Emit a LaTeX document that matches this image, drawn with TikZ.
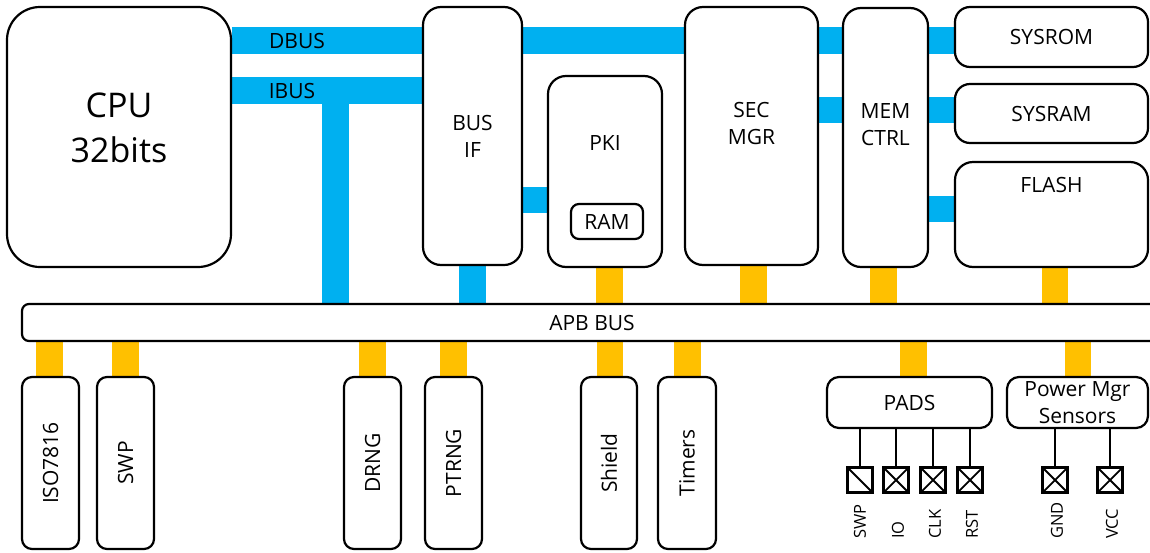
\documentclass[tikz,border=0pt]{standalone}
\usepackage{fontspec}
\setmainfont{Open Sans}
\usetikzlibrary{calc}
\pgfdeclarelayer{background}
\pgfsetlayers{background,main}
\definecolor{busblue}{HTML}{00B0F0}
\definecolor{apbyellow}{HTML}{FFC000}
\tikzset{
  blk/.style={draw, line width=2.2pt, fill=white, rounded corners=#1, inner sep=0pt,
    align=center, font=\fontsize{21}{27}\selectfont},
  blk/.default=18pt,
  bbus/.style={busblue, line width=26.5pt},
  ybus/.style={apbyellow, line width=26.5pt},
  padsq/.style={draw, line width=2.6pt, minimum size=25pt, inner sep=0pt,
    path picture={\draw[line width=1.8pt] (path picture bounding box.north west) -- (path picture bounding box.south east)
      (path picture bounding box.north east) -- (path picture bounding box.south west);}},
  swpsq/.style={draw, line width=2.6pt, minimum size=25pt, inner sep=0pt,
    path picture={\draw[line width=1.8pt] (path picture bounding box.north west) -- (path picture bounding box.south east);}},
  padwire/.style={line width=2.4pt},
  padlab/.style={rotate=90, anchor=west, inner sep=0pt, font=\fontsize{16.5}{16.5}\selectfont}
}
\begin{document}
\begin{tikzpicture}[x=1pt,y=-1pt]
  \useasboundingbox (0,0) rectangle (1150,552);
  % top row
  \node[blk=33pt, minimum width=224pt, minimum height=260pt,
    label={[font=\fontsize{34}{45}\selectfont, align=center, yshift=9.5pt]center:{CPU\\32bits}}] (cpu) at (119,137) {};
  \node[blk, minimum width=99pt, minimum height=258pt] (busif) at (472.5,136) {BUS\\IF};
  \node[blk, minimum width=114pt, minimum height=191pt,
    label={[font=\fontsize{21}{27}\selectfont, yshift=28.5pt]center:PKI}] (pki) at (605,171.5) {};
  \node[blk=8pt, minimum width=72pt, minimum height=35pt] (ram) at (607,221.5) {RAM};
  \node[blk, minimum width=133pt, minimum height=258pt,
    label={[font=\fontsize{21}{27}\selectfont, align=center, yshift=12.5pt]center:{SEC\\MGR}}] (secmgr) at (751.5,136) {};
  \node[blk, minimum width=85pt, minimum height=259pt,
    label={[font=\fontsize{21}{27}\selectfont, align=center, yshift=12.5pt]center:{MEM\\CTRL}}] (memctrl) at (885.5,137.5) {};
  \node[blk=15pt, minimum width=193pt, minimum height=60pt] (sysrom) at (1051.5,37) {SYSROM};
  \node[blk=15pt, minimum width=193pt, minimum height=59pt] (sysram) at (1051.5,113.5) {SYSRAM};
  \node[blk, minimum width=193pt, minimum height=105pt,
    label={[font=\fontsize{21}{27}\selectfont, yshift=29.5pt]center:FLASH}] (flash) at (1051.5,214.5) {};
  % peripheral bus
  \node[blk=7pt, minimum width=1140pt, minimum height=37pt] (apb) at (592,322.5) {APB BUS};
  % bottom row
  \node[blk=10pt, minimum width=57pt, minimum height=172pt, label={[rotate=90, font=\fontsize{21}{27}\selectfont]center:ISO7816}] (iso) at (50.5,463) {};
  \node[blk=10pt, minimum width=57pt, minimum height=172pt, label={[rotate=90, font=\fontsize{21}{27}\selectfont]center:SWP}] (swp) at (125.5,463) {};
  \node[blk=10pt, minimum width=57pt, minimum height=172pt, label={[rotate=90, font=\fontsize{21}{27}\selectfont]center:DRNG}] (drng) at (372.5,463) {};
  \node[blk=10pt, minimum width=57pt, minimum height=172pt, label={[rotate=90, font=\fontsize{21}{27}\selectfont]center:PTRNG}] (ptrng) at (453.5,463) {};
  \node[blk=10pt, minimum width=56pt, minimum height=172pt, label={[rotate=90, font=\fontsize{21}{27}\selectfont]center:Shield}] (shield) at (609,463) {};
  \node[blk=10pt, minimum width=58pt, minimum height=172pt, label={[rotate=90, font=\fontsize{21}{27}\selectfont]center:Timers}] (timers) at (687,463) {};
  \node[blk=12pt, minimum width=165pt, minimum height=51pt] (pads) at (909.5,402.5) {PADS};
  \node[blk=12pt, minimum width=141pt, minimum height=51pt] (power) at (1077.5,402.5) {Power Mgr\\Sensors};
  % pads
  \node[swpsq] (swppad) at (860,480) {};
  \node[padsq] (iopad) at (896,480) {};
  \node[padsq] (clkpad) at (933,480) {};
  \node[padsq] (rstpad) at (970,480) {};
  \node[padsq] (gndpad) at (1055,480) {};
  \node[padsq] (vccpad) at (1110,480) {};
  \coordinate (labline) at (0,539);
  \node[padlab] (swplab) at (swppad |- labline) {SWP};
  \node[padlab] (iolab) at ([xshift=2pt]iopad |- labline) {IO};
  \node[padlab] (clklab) at ([xshift=2pt]clkpad |- labline) {CLK};
  \node[padlab] (rstlab) at ([xshift=2pt]rstpad |- labline) {RST};
  \node[padlab] (gndlab) at ([xshift=2pt]gndpad |- labline) {GND};
  \node[padlab] (vcclab) at ([xshift=2pt]vccpad |- labline) {VCC};
  \foreach \p in {swppad,iopad,clkpad,rstpad}
    \draw[padwire] (\p.north) -- (\p.north |- pads.south);
  \foreach \p in {gndpad,vccpad}
    \draw[padwire] (\p.north) -- (\p.north |- power.south);
  % buses
  \coordinate (dline) at (0,40.5);
  \coordinate (iline) at (0,90.5);
  \coordinate (sline) at (0,110);
  \coordinate (fline) at (0,209);
  \coordinate (kline) at (0,200);
  \coordinate (itap) at (335.5,90.5);
  \begin{pgfonlayer}{background}
    \draw[bbus] (cpu.east |- dline) -- (busif.west |- dline);
    \draw[bbus] (busif.east |- dline) -- (secmgr.west |- dline);
    \draw[bbus] (secmgr.east |- dline) -- (memctrl.west |- dline);
    \draw[bbus] (memctrl.east |- dline) -- (sysrom.west |- dline);
    \draw[bbus] (cpu.east |- iline) -- (busif.west |- iline);
    \draw[bbus] (itap) -- (itap |- apb.north);
    \draw[bbus] (busif.east |- kline) -- (pki.west |- kline);
    \draw[bbus] (secmgr.east |- sline) -- (memctrl.west |- sline);
    \draw[bbus] (memctrl.east |- sline) -- (sysram.west |- sline);
    \draw[bbus] (memctrl.east |- fline) -- (flash.west |- fline);
    \draw[bbus] (busif.south) -- (busif.south |- apb.north);
    \foreach \b/\dx in {pki/4.5,secmgr/2,memctrl/-2,flash/3.5}
      \draw[ybus] ([xshift=\dx pt]\b.south) -- ([xshift=\dx pt]\b.south |- apb.north);
    \foreach \b/\dx in {iso/-1,swp/0,drng/0,ptrng/0,shield/1,timers/0.5,pads/4,power/0.5}
      \draw[ybus] ([xshift=\dx pt]\b.north) -- ([xshift=\dx pt]\b.north |- apb.south);
  \end{pgfonlayer}
  \node[font=\fontsize{21}{27}\selectfont] (dbuslab) at (297,41) {DBUS};
  \node[font=\fontsize{21}{27}\selectfont] (ibuslab) at (292,91) {IBUS};
\end{tikzpicture}
\end{document}
